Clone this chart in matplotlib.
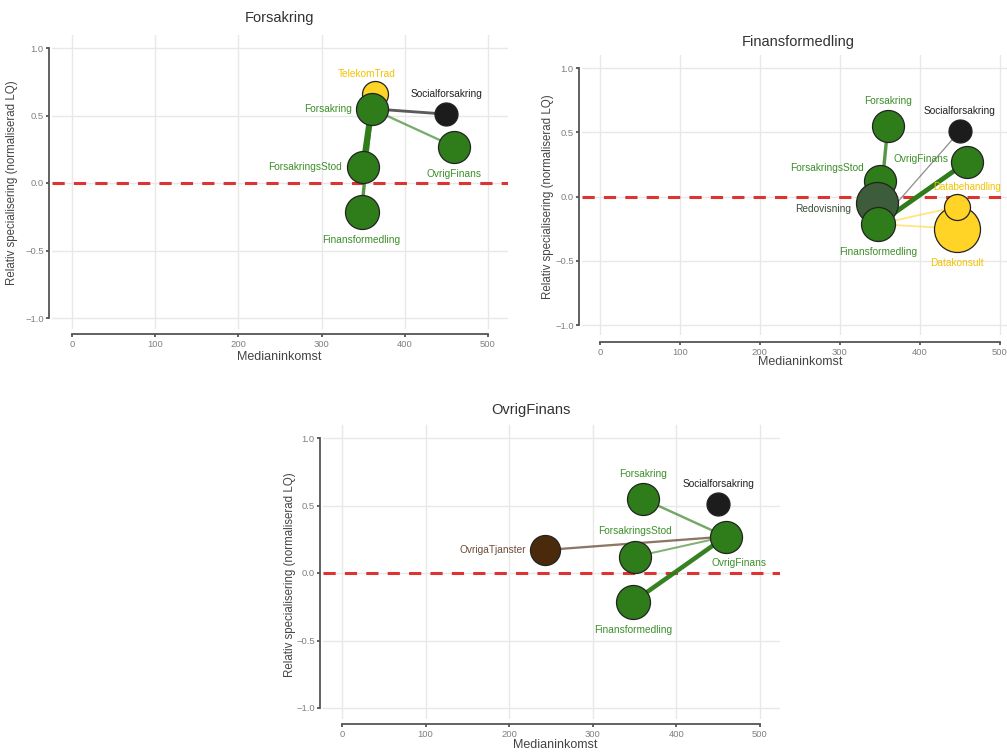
import matplotlib
matplotlib.use("Agg")
import matplotlib.pyplot as plt

plt.rcParams['font.family'] = ['Liberation Sans', 'DejaVu Sans']

# ---------------- data ----------------
node_names = ["Forsakring", "Socialforsakring", "OvrigFinans", "ForsakringsStod",
              "Finansformedling", "TelekomTrad", "Redovisning", "Databehandling",
              "Datakonsult", "OvrigaTjanster"]
node_income = [360, 450, 459, 350, 348, 364, 347, 446, 447, 243]          # Medianinkomst
node_lq = [0.55, 0.51, 0.27, 0.12, -0.215, 0.66, -0.05, -0.08, -0.25, 0.17]  # normalised LQ
node_size = [531, 274, 531, 531, 599, 350, 914, 350, 1097, 467]           # bubble size

panel_titles = ["Forsakring", "Finansformedling", "OvrigFinans"]
# nodes shown in each panel (drawing order, focal node last)
panel1_nodes = ["TelekomTrad", "Socialforsakring", "OvrigFinans", "ForsakringsStod", "Finansformedling", "Forsakring"]
panel2_nodes = ["Forsakring", "Socialforsakring", "OvrigFinans", "ForsakringsStod", "Redovisning",
                "Datakonsult", "Databehandling", "Finansformedling"]
panel3_nodes = ["Forsakring", "Socialforsakring", "ForsakringsStod", "OvrigaTjanster", "Finansformedling", "OvrigFinans"]
# edges from focal node: (target, weight)
panel1_edges = [("TelekomTrad", 0.3), ("Socialforsakring", 0.4), ("OvrigFinans", 0.3),
                ("ForsakringsStod", 1.0), ("Finansformedling", 0.5)]
panel2_edges = [("Forsakring", 0.5), ("Socialforsakring", 0.12), ("OvrigFinans", 0.75),
                ("ForsakringsStod", 0.4), ("Redovisning", 0.4), ("Databehandling", 0.22), ("Datakonsult", 0.22)]
panel3_edges = [("Forsakring", 0.33), ("ForsakringsStod", 0.25), ("OvrigaTjanster", 0.3),
                ("Finansformedling", 0.7)]

x_ticks = [0, 100, 200, 300, 400, 500]
y_ticks = [-1.0, -0.5, 0.0, 0.5, 1.0]

# ---------------- styles ----------------
GREEN = '#2e7d1a'
node_color = {"Forsakring": GREEN, "OvrigFinans": GREEN, "ForsakringsStod": GREEN, "Finansformedling": GREEN,
              "Socialforsakring": '#1c1c1c', "TelekomTrad": '#ffd426', "Databehandling": '#ffd426',
              "Datakonsult": '#ffd426', "Redovisning": '#3d5c3a', "OvrigaTjanster": '#4b2a0c'}
label_color = {"Forsakring": '#3d8f2a', "OvrigFinans": '#3d8f2a', "ForsakringsStod": '#3d8f2a',
               "Finansformedling": '#3d8f2a', "Socialforsakring": '#222222', "TelekomTrad": '#f2c200',
               "Databehandling": '#f2c200', "Datakonsult": '#f2c200', "Redovisning": '#3b4b3b',
               "OvrigaTjanster": '#6d4c38'}

# label offsets in pixels (dx, dy, ha)
panel1_lab = {"TelekomTrad": (-8, 20, 'center'), "Forsakring": (-20, 0, 'right'),
              "Socialforsakring": (0, 20, 'center'), "OvrigFinans": (0, -27, 'center'),
              "ForsakringsStod": (-21, 0, 'right'), "Finansformedling": (0, -28, 'center')}
panel2_lab = {"Forsakring": (0, 25, 'center'), "Socialforsakring": (0, 20, 'center'),
              "OvrigFinans": (-19, 3, 'right'), "ForsakringsStod": (-16, 13, 'right'),
              "Redovisning": (-26, -6, 'right'), "Finansformedling": (0, -28, 'center'),
              "Databehandling": (-23, 20, 'left'), "Datakonsult": (0, -34, 'center')}
panel3_lab = {"Forsakring": (0, 25, 'center'), "Socialforsakring": (0, 20, 'center'),
              "OvrigFinans": (13, -26, 'center'), "ForsakringsStod": (0, 26, 'center'),
              "OvrigaTjanster": (-19, 0, 'right'), "Finansformedling": (0, -28, 'center')}

W, H = 1007, 753
fig = plt.figure(figsize=(W / 100, H / 100), dpi=100)


def px_axes(l, t, r, b):
    return fig.add_axes([l / W, 1 - b / H, (r - l) / W, (b - t) / H])


panels = [
    dict(rect=(52, 34.5, 508, 328.8), xlim=(-24, 524), title=(280, 18), xlab=(279, 357), ylab=(12, 183),
         nodes=panel1_nodes, edges=panel1_edges, labs=panel1_lab, off=(2, 4)),
    dict(rect=(582, 55.2, 1019, 335.3), xlim=(-22.5, 524), title=(798, 42), xlab=(800, 362), ylab=(548, 197),
         nodes=panel2_nodes, edges=panel2_edges, labs=panel2_lab, off=(2, 5)),
    dict(rect=(323, 424.5, 780, 718.8), xlim=(-22.7, 524), title=(531, 410), xlab=(555, 745), ylab=(290, 575),
         nodes=panel3_nodes, edges=panel3_edges, labs=panel3_lab, off=(2, 4)),
]

idx = {n: i for i, n in enumerate(node_names)}
SPINE = '#555555'

for p, title in zip(panels, panel_titles):
    ax = px_axes(*p['rect'])
    ax.set_xlim(*p['xlim'])
    ax.set_ylim(-1.08, 1.1)
    ax.set_xticks(x_ticks)
    ax.set_yticks(y_ticks)
    ax.set_yticklabels([f"{v:.1f}".replace('-', '\u2212') for v in y_ticks])
    ax.grid(True, color='#e8e8e8', lw=1.0)
    ax.set_axisbelow(True)
    for s in ['top', 'right']:
        ax.spines[s].set_visible(False)
    ax.spines['left'].set_position(('outward', p['off'][0]))
    ax.spines['bottom'].set_position(('outward', p['off'][1]))
    ax.spines['left'].set_bounds(-1, 1)
    ax.spines['bottom'].set_bounds(0, 500)
    for s in ['left', 'bottom']:
        ax.spines[s].set_color(SPINE)
        ax.spines[s].set_linewidth(1.3)
    ax.tick_params(length=2.5, width=1.3, color=SPINE, labelsize=6.8, labelcolor='#808080', pad=1.5)
    ax.patch.set_alpha(0)

    ax.axhline(0, color='#dd3333', lw=2.2, ls=(0, (4, 3)), zorder=1.5)

    focal = title
    fx, fy = node_income[idx[focal]], node_lq[idx[focal]]
    for tgt, w in p['edges']:
        tx, ty = node_income[idx[tgt]], node_lq[idx[tgt]]
        ax.plot([fx, tx], [fy, ty], color=node_color[tgt], lw=(0.6 + 5.6 * w) * 0.72,
                alpha=min(1.0, 0.4 + 0.8 * w), solid_capstyle='butt', zorder=2)

    for k, n in enumerate(p['nodes']):
        i = idx[n]
        ax.scatter([node_income[i]], [node_lq[i]], s=node_size[i], color=node_color[n],
                   edgecolors='#222222', linewidths=0.9, zorder=3 + k)
        dx, dy, ha = p['labs'][n]
        ax.annotate(n, (node_income[i], node_lq[i]), xytext=(dx, dy), textcoords='offset pixels',
                    ha=ha, va='center', fontsize=7.3 if n != "Databehandling" else 7.0,
                    color=label_color[n], zorder=20, annotation_clip=False)

    tx, ty = p['title']
    fig.text(tx / W, 1 - ty / H, title, ha='center', va='center', fontsize=10.5, color='#333333')
    lx, ly = p['xlab']
    fig.text(lx / W, 1 - ly / H, "Medianinkomst", ha='center', va='center', fontsize=9, color='#444444')
    yx, yy = p['ylab']
    fig.text(yx / W, 1 - yy / H, "Relativ specialisering (normaliserad LQ)", ha='center', va='center',
             rotation=90, fontsize=8.3, color='#444444')

fig.savefig("out.png", dpi=100)
